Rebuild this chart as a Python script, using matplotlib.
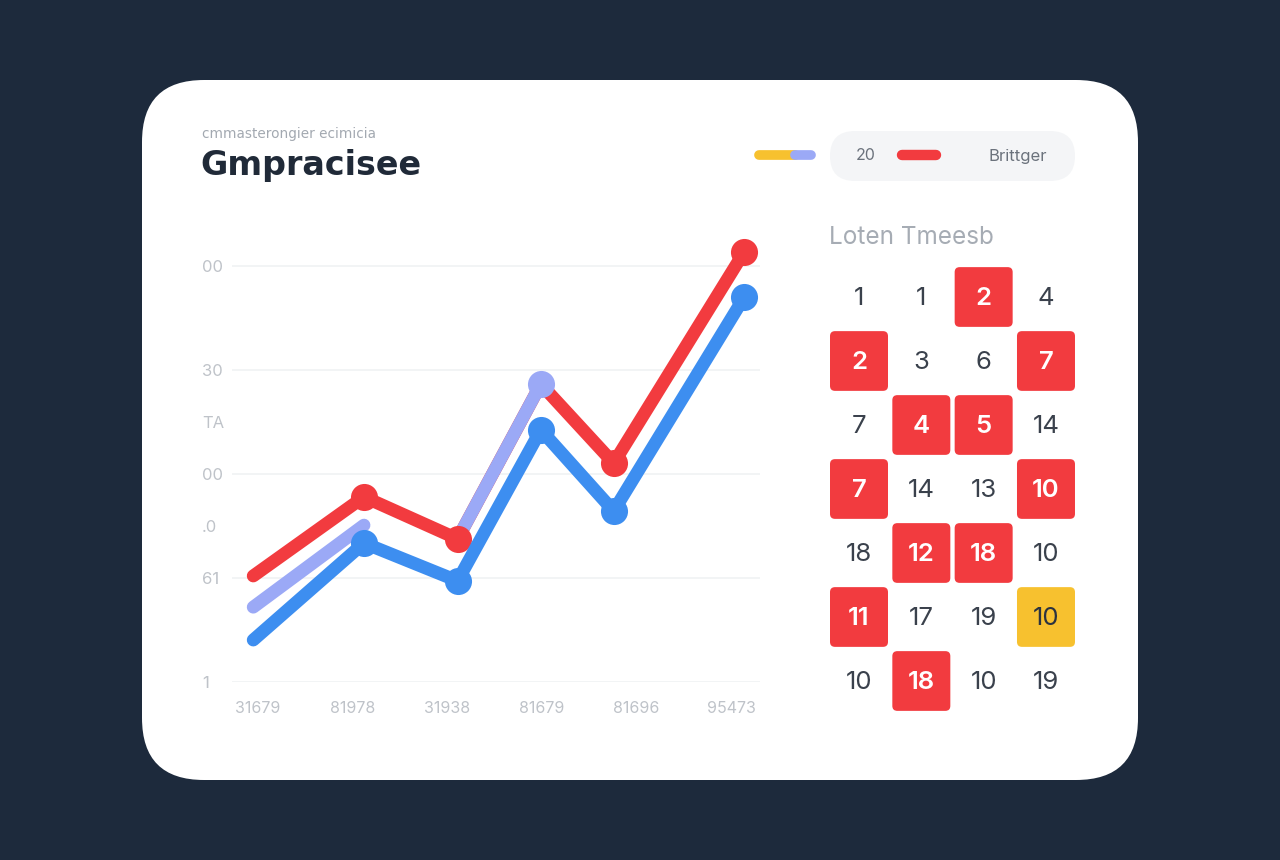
import matplotlib
matplotlib.use("Agg")
import matplotlib.pyplot as plt
from matplotlib.patches import FancyBboxPatch
import numpy as np

# ---------------- data ----------------
title = "Gmpracisee"
subtitle = "cmmasterongier ecimicia"
legend_labels = ["20", "Brittger"]
panel_title = "Loten Tmeesb"

x_labels = ["31679", "81978", "31938", "81679", "81696", "95473"]
x_points = [-0.05, 1.12, 2.11, 2.99, 3.76, 5.14]

red_vals = [25.5, 44.5, 34.4, 71.6, 52.6, 103.4]
red_marker_idx = [1, 2, 4, 5]
purple_vals = [18.0, 37.7, 34.4, 71.6]
purple_segments = [(0, 1), (2, 3)]
purple_marker_idx = [3]
blue_vals = [10.1, 33.4, 24.3, 60.6, 41.1, 92.5]
blue_marker_idx = [1, 2, 3, 4, 5]

y_ticks = [0, 25, 37.5, 50, 62.5, 75, 100]
y_ticklabels = ["1", "61", ".0", "00", "ΤΑ", "30", "00"]
y_grid = [0, 25, 50, 75, 100]

grid_values = [
    [1, 1, 2, 4],
    [2, 3, 6, 7],
    [7, 4, 5, 14],
    [7, 14, 13, 10],
    [18, 12, 18, 10],
    [11, 17, 19, 10],
    [10, 18, 10, 19],
]
# 0 = plain, 1 = red, 2 = yellow
grid_state = [
    [0, 0, 1, 0],
    [1, 0, 0, 1],
    [0, 1, 1, 0],
    [1, 0, 0, 1],
    [0, 1, 1, 0],
    [1, 0, 0, 2],
    [0, 1, 0, 0],
]

# ---------------- style ----------------
BG = "#1d2a3c"
CARD = "#ffffff"
RED = "#f23b3f"
BLUE = "#3d8ef0"
PURPLE = "#9ba9f6"
YELLOW = "#f7c12f"
DARK = "#2b3340"
FONT = ["Inter", "DejaVu Sans"]
plt.rcParams["font.family"] = FONT

W, H = 1280, 860
fig = plt.figure(figsize=(W / 100, H / 100), dpi=100, facecolor=BG)

bg = fig.add_axes([0, 0, 1, 1])
bg.set_xlim(0, W)
bg.set_ylim(H, 0)
bg.axis("off")
bg.set_facecolor(BG)

# card
card = FancyBboxPatch((142 + 62, 80 + 62), 996 - 124, 700 - 124,
                      boxstyle="round,pad=62", fc=CARD, ec="none", zorder=1)
bg.add_patch(card)

# titles
bg.text(202, 134, subtitle, fontsize=9.8, color="#a3a9b1", va="center", ha="left",
        zorder=3, family=["DejaVu Sans"])
bg.text(200, 165, title, fontsize=24, fontweight="bold", color="#202a38",
        va="center", ha="left", zorder=3, family=["DejaVu Sans"])

# legend top right
bg.plot([759, 795], [155, 155], color=YELLOW, lw=7, solid_capstyle="round", zorder=3)
bg.plot([795, 811], [155, 155], color=PURPLE, lw=7, solid_capstyle="round", zorder=3)
pill = FancyBboxPatch((855, 131 + 25), 1075 - 830 - 50, 0,
                      boxstyle="round,pad=25", fc="#f4f5f7", ec="none", zorder=2)
bg.add_patch(pill)
bg.text(856, 156, legend_labels[0], fontsize=11.5, color="#6b727c", va="center", ha="left", zorder=3)
bg.plot([902, 936], [155, 155], color=RED, lw=7.5, solid_capstyle="round", zorder=3)
bg.text(989, 156, legend_labels[1], fontsize=12, color="#6b727c", va="center", ha="left", zorder=3)

# panel title
bg.text(829, 237, panel_title, fontsize=17.5, color="#a6acb4", va="center", ha="left", zorder=3)

# ---------------- line chart ----------------
ax_l, ax_r, ax_b, ax_t = 232, 760, 682, 240
ax = fig.add_axes([ax_l / W, (H - ax_b) / H, (ax_r - ax_l) / W, (ax_b - ax_t) / H])
ax.set_facecolor("none")
ax.set_zorder(5)
xmin = (232 - 258) / 94.6
xmax = (760 - 258) / 94.6
ax.set_xlim(xmin, xmax)
ax.set_ylim(0, (ax_b - ax_t) / 104 * 25)
for s in ax.spines.values():
    s.set_visible(False)
for g in y_grid:
    ax.axhline(g, color="#eff1f3", lw=1.1, zorder=0)

ax.set_yticks(y_ticks)
ax.set_yticklabels(y_ticklabels)
ax.set_xticks(range(len(x_labels)))
ax.set_xticklabels(x_labels)
ax.tick_params(axis="y", length=0, pad=21.6, labelsize=12, labelcolor="#bfc3c9")
ax.tick_params(axis="x", length=0, pad=14, labelsize=11.5, labelcolor="#bfc3c9")
for lab in ax.get_yticklabels():
    lab.set_horizontalalignment("left")

lw = 9.3
ms = 19.5
ax.plot(x_points, red_vals, color=RED, lw=lw, solid_capstyle="round",
        solid_joinstyle="round", zorder=3, clip_on=False)
for a, b in purple_segments:
    ax.plot(x_points[a:b + 1], purple_vals[a:b + 1], color=PURPLE, lw=lw,
            solid_capstyle="round", solid_joinstyle="round", zorder=3.5, clip_on=False)
ax.plot(x_points, blue_vals, color=BLUE, lw=lw, solid_capstyle="round",
        solid_joinstyle="round", zorder=4, clip_on=False)
ax.plot([x_points[i] for i in red_marker_idx], [red_vals[i] for i in red_marker_idx],
        "o", color=RED, ms=ms, mew=0, zorder=3.8, clip_on=False)
ax.plot([x_points[i] for i in purple_marker_idx], [purple_vals[i] for i in purple_marker_idx],
        "o", color=PURPLE, ms=ms, mew=0, zorder=3.9, clip_on=False)
ax.plot([x_points[i] for i in blue_marker_idx], [blue_vals[i] for i in blue_marker_idx],
        "o", color=BLUE, ms=ms, mew=0, zorder=4.5, clip_on=False)

# ---------------- grid panel ----------------
col_c0, col_dx = 859, 62.33
row_c0, row_dy = 297, 64
ncol, nrow = 4, 7
gx0 = col_c0 - col_dx / 2
gx1 = col_c0 + col_dx * (ncol - 0.5)
gy0 = row_c0 - row_dy / 2
gy1 = row_c0 + row_dy * (nrow - 0.5)
gax = fig.add_axes([gx0 / W, (H - gy1) / H, (gx1 - gx0) / W, (gy1 - gy0) / H])
gax.set_xlim(-0.5, ncol - 0.5)
gax.set_ylim(nrow - 0.5, -0.5)
gax.axis("off")
gax.set_zorder(5)
cw, ch = 58 / col_dx, 60 / row_dy
rad = 0.08
for r in range(nrow):
    for c in range(ncol):
        st = grid_state[r][c]
        val = grid_values[r][c]
        if st:
            fc = RED if st == 1 else YELLOW
            p = FancyBboxPatch((c - cw / 2 + rad, r - ch / 2 + rad), cw - 2 * rad, ch - 2 * rad,
                               boxstyle=f"round,pad={rad}", fc=fc, ec="none",
                               mutation_aspect=col_dx / row_dy)
            gax.add_patch(p)
            tc = "white" if st == 1 else DARK
            fw = "semibold" if st == 1 else "normal"
        else:
            tc = "#3a414c"
            fw = "normal"
        gax.text(c, r + 0.02, str(val), ha="center", va="center", fontsize=18.5,
                 color=tc, fontweight=fw)

fig.savefig("out.png", dpi=100, facecolor=BG)
